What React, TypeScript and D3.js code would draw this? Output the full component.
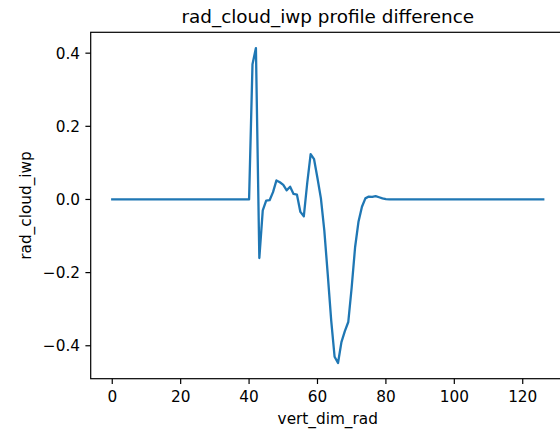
import React from 'react';
import * as d3 from 'd3';

// profile difference, one value per vertical level (0..126)
const levels = d3.range(0, 127);
const profileDiff: number[] = [
  // 0-39
  0, 0, 0, 0, 0, 0, 0, 0, 0, 0, 0, 0, 0, 0, 0, 0, 0, 0, 0, 0,
  0, 0, 0, 0, 0, 0, 0, 0, 0, 0, 0, 0, 0, 0, 0, 0, 0, 0, 0, 0,
  // 40-59
  0, 0.37, 0.414, -0.16, -0.03, -0.003, -0.002, 0.02, 0.052, 0.047,
  0.04, 0.025, 0.035, 0.015, 0.013, -0.034, -0.046, 0.045, 0.124, 0.11,
  // 60-79
  0.058, 0.003, -0.085, -0.205, -0.33, -0.43, -0.447, -0.39, -0.36, -0.335,
  -0.24, -0.13, -0.06, -0.02, 0.003, 0.008, 0.007, 0.009, 0.006, 0.003,
  // 80-126
  0.001, 0, 0, 0, 0, 0, 0, 0, 0, 0, 0, 0, 0, 0, 0, 0, 0, 0, 0, 0,
  0, 0, 0, 0, 0, 0, 0, 0, 0, 0, 0, 0, 0, 0, 0, 0, 0, 0, 0, 0,
  0, 0, 0, 0, 0, 0, 0,
];
const xTicks = [0, 20, 40, 60, 80, 100, 120];
const yTicks = [-0.4, -0.2, 0.0, 0.2, 0.4];

const title = 'rad_cloud_iwp profile difference';
const xLabel = 'vert_dim_rad';
const yLabel = 'rad_cloud_iwp';

const W = 560;
const H = 438;
const left = 90.7;
const right = 564.8;
const top = 32.3;
const bottom = 378.7;
const font = 'DejaVu Sans, sans-serif';
const tickFont = 15.3;
const tickLen = 5.3;

// matplotlib style 5% margins
function padded([a, b]: [number, number]): [number, number] {
  const m = (b - a) * 0.05;
  return [a - m, b + m];
}

export default function App() {
  const x = d3.scaleLinear().domain(padded([0, 126])).range([left, right]);
  const y = d3
    .scaleLinear()
    .domain(padded(d3.extent(profileDiff) as [number, number]))
    .range([bottom, top]);

  const line = d3
    .line<number>()
    .x((d, i) => x(levels[i]))
    .y((d) => y(d));

  const fmt = (v: number) => d3.format('.1f')(v).replace('-', '\u2212');

  return (
    <svg
      width={W}
      height={H}
      style={{ position: 'absolute', left: 0, top: 0, display: 'block', background: '#fff' }}
      fontFamily={font}
    >
      <path d={line(profileDiff) || ''} fill="none" stroke="#1f77b4" strokeWidth={2.3} strokeLinejoin="round" strokeLinecap="square" />

      {/* spines */}
      <rect x={left} y={top} width={right - left} height={bottom - top} fill="none" stroke="#000" strokeWidth={1.2} />

      {/* x ticks */}
      {xTicks.map((t) => (
        <g key={'x' + t} transform={`translate(${x(t)},0)`}>
          <line y1={bottom} y2={bottom + tickLen} stroke="#000" strokeWidth={1.2} />
          <text y={401.5} textAnchor="middle" fontSize={tickFont} fill="#000">
            {t}
          </text>
        </g>
      ))}

      {/* y ticks */}
      {yTicks.map((t) => (
        <g key={'y' + t} transform={`translate(0,${y(t)})`}>
          <line x1={left} x2={left - tickLen} stroke="#000" strokeWidth={1.2} />
          <text x={80} dy="0.36em" textAnchor="end" fontSize={tickFont} fill="#000">
            {fmt(t)}
          </text>
        </g>
      ))}

      <text x={(left + right) / 2} y={23.2} textAnchor="middle" fontSize={18.4} fill="#000">
        {title}
      </text>
      <text x={(left + right) / 2} y={424.3} textAnchor="middle" fontSize={tickFont} fill="#000">
        {xLabel}
      </text>
      <text
        transform={`translate(31,${(top + bottom) / 2}) rotate(-90)`}
        textAnchor="middle"
        fontSize={tickFont}
        fill="#000"
      >
        {yLabel}
      </text>
    </svg>
  );
}
